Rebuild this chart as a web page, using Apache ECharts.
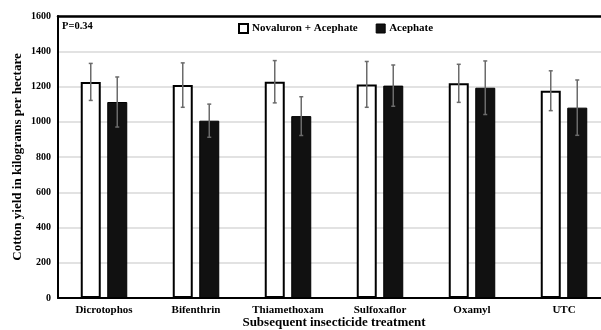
<!DOCTYPE html>
<html>
<head>
<meta charset="utf-8">
<script src="https://cdn.jsdelivr.net/npm/echarts@6/dist/echarts.min.js"></script>
<style>html,body{margin:0;padding:0;background:#fff}#c{width:601px;height:330px}</style>
</head>
<body>
<div id="c"></div>
<script>
const categories = ['Dicrotophos','Bifenthrin','Thiamethoxam','Sulfoxaflor','Oxamyl','UTC'];
const novaluronMean = [1226, 1208, 1227, 1212, 1218, 1176];
const novaluronErr  = [105, 126, 120, 130, 108, 113];
const acephateMean  = [1112, 1006, 1032, 1205, 1193, 1080];
const acephateErr   = [142, 94, 110, 117, 152, 157];
const yTicks = [0,200,400,600,800,1000,1200,1400,1600];

const FONT = 'Liberation Serif';
const BAR_W = 20;
const HALF_SPACING = 13.25;

function errSeries(name, means, errs, sign) {
  return {
    type: 'custom',
    name: name + ' err',
    z: 5,
    silent: true,
    data: means.map((m, i) => [i, m - errs[i], m + errs[i]]),
    renderItem: function (params, api) {
      const i = api.value(0);
      const lo = api.coord([i, api.value(1)]);
      const hi = api.coord([i, api.value(2)]);
      const x = lo[0] + sign * HALF_SPACING;
      const cap = 2;
      const st = { stroke: '#6b6b6b', lineWidth: 1.5 };
      return {
        type: 'group',
        children: [
          { type: 'line', shape: { x1: x, y1: lo[1], x2: x, y2: hi[1] }, style: st },
          { type: 'line', shape: { x1: x - cap, y1: lo[1], x2: x + cap, y2: lo[1] }, style: st },
          { type: 'line', shape: { x1: x - cap, y1: hi[1], x2: x + cap, y2: hi[1] }, style: st }
        ]
      };
    }
  };
}

const chart = echarts.init(document.getElementById('c'));
chart.setOption({
  animation: false,
  backgroundColor: '#fff',
  grid: { left: 58, width: 552, top: 16, height: 282, containLabel: false, outerBoundsMode: 'none' },
  legend: {
    top: 18, left: 233, itemWidth: 9, itemHeight: 9, itemGap: 18,
    textStyle: { fontFamily: FONT, fontWeight: 'bold', fontSize: 11, color: '#000', padding: [0,0,0,-1] },
    data: [
      { name: 'Novaluron + Acephate', icon: 'rect', itemStyle: { color: '#fff', borderColor: '#000', borderWidth: 2 } },
      { name: 'Acephate', icon: 'rect', itemStyle: { color: '#111', borderColor: '#000', borderWidth: 1 } }
    ]
  },
  xAxis: [{
    type: 'category', data: categories,
    name: 'Subsequent insecticide treatment', nameLocation: 'middle', nameGap: 18.5, nameMoveOverlap: false,
    nameTextStyle: { fontFamily: FONT, fontWeight: 'bold', fontSize: 13, color: '#000' },
    axisLine: { show: true, lineStyle: { color: '#000', width: 2 } },
    axisTick: { show: false },
    axisLabel: { interval: 0, fontFamily: FONT, fontWeight: 'bold', fontSize: 11, color: '#000', margin: 7 }
  }, {
    type: 'category', data: categories, position: 'top', z: 10,
    axisLine: { show: true, lineStyle: { color: '#000', width: 2.5 } },
    axisTick: { show: false }, axisLabel: { show: false }, splitLine: { show: false }
  }],
  yAxis: {
    type: 'value', min: 0, max: 1600, interval: 200,
    name: 'Cotton yield in kilograms per hectare', nameLocation: 'middle', nameGap: 34, nameMoveOverlap: false,
    nameTextStyle: { fontFamily: FONT, fontWeight: 'bold', fontSize: 13, color: '#000' },
    axisLine: { show: true, lineStyle: { color: '#000', width: 2 } },
    axisTick: { show: false },
    axisLabel: { fontFamily: FONT, fontWeight: 'bold', fontSize: 10, color: '#000', margin: 7,
      formatter: v => yTicks.includes(v) ? String(v) : '' },
    splitLine: { lineStyle: { color: '#d9d9d9', width: 1.5 } }
  },
  graphic: [
    { type: 'text', left: 62, top: 21, style: { text: 'P=0.34', fontFamily: FONT, fontWeight: 'bold', fontSize: 10.5, fill: '#000' } }
  ],
  series: [
    { type: 'bar', name: 'Novaluron + Acephate', data: novaluronMean, barWidth: BAR_W, barGap: '32.5%',
      itemStyle: { color: '#fff', borderColor: '#000', borderWidth: 2 } },
    { type: 'bar', name: 'Acephate', data: acephateMean, barWidth: BAR_W,
      itemStyle: { color: '#111', borderColor: '#000', borderWidth: 1 } },
    errSeries('Novaluron + Acephate', novaluronMean, novaluronErr, -1),
    errSeries('Acephate', acephateMean, acephateErr, 1)
  ]
});
</script>
</body>
</html>
